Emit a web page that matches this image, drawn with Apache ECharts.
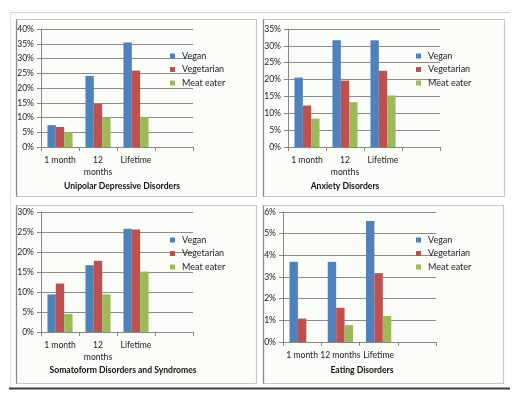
<!DOCTYPE html>
<html><head><meta charset="utf-8">
<script src="https://cdn.jsdelivr.net/npm/echarts@6/dist/echarts.min.js"></script>
<style>html,body{margin:0;padding:0;background:#fff}#c{width:520px;height:401px}</style>
</head><body><div id="c"></div>
<script>
const seriesNames = ['Vegan', 'Vegetarian', 'Meat eater'];
const colors = ['#4f81bd', '#c0504d', '#9bbb59'];

const catsWrapped = ['1 month', '12\nmonths', 'Lifetime', ''];
const catsEating = ['1 month', '12 months', 'Lifetime', ''];

const titles = ['Unipolar Depressive Disorders', 'Anxiety Disorders', 'Somatoform Disorders and Syndromes', 'Eating Disorders'];

const depVegan = [7.4, 24.1, 35.4];
const depVegetarian = [6.8, 14.6, 25.9];
const depMeat = [5.0, 10.1, 10.1];

const anxVegan = [20.6, 31.7, 31.7];
const anxVegetarian = [12.3, 19.7, 22.6];
const anxMeat = [8.4, 13.3, 15.3];

const somVegan = [9.4, 16.7, 25.8];
const somVegetarian = [12.1, 17.8, 25.6];
const somMeat = [4.5, 9.4, 15.1];

const eatVegan = [3.7, 3.7, 5.58];
const eatVegetarian = [1.08, 1.58, 3.18];
const eatMeat = [0, 0.78, 1.2];

const yMax = [40, 35, 30, 6];
const yInterval = [5, 5, 5, 1];

const panelData = [
  [depVegan, depVegetarian, depMeat],
  [anxVegan, anxVegetarian, anxMeat],
  [somVegan, somVegetarian, somMeat],
  [eatVegan, eatVegetarian, eatMeat]
];
const panelCats = [catsWrapped, catsWrapped, catsWrapped, catsEating];

// layout
const grids = [
  {left: 41, top: 29, width: 152, height: 118},
  {left: 288, top: 29, width: 152, height: 118},
  {left: 41, top: 212, width: 152, height: 120},
  {left: 283, top: 212, width: 153, height: 130}
];
const frames = [
  {x: 16, y: 19, w: 240, h: 177},
  {x: 263, y: 19, w: 241, h: 177},
  {x: 16, y: 205, w: 240, h: 178},
  {x: 263, y: 205, w: 240, h: 178}
];
const titlePos = [
  {x: 122, y: 182},
  {x: 345, y: 182},
  {x: 123, y: 366},
  {x: 362, y: 366}
];
const legendPos = [
  {x: 170, y: 51},
  {x: 416, y: 51},
  {x: 170, y: 235},
  {x: 416, y: 235}
];

const FONT = 'Lato';
const chart = echarts.init(document.getElementById('c'), null, {renderer: 'canvas'});

const graphic = [];
graphic.push({type: 'line', shape: {x1: 10, y1: 12.5, x2: 510, y2: 12.5}, style: {stroke: '#d4d4d4', lineWidth: 1}, z: 0});
graphic.push({type: 'line', shape: {x1: 10.5, y1: 12.5, x2: 10.5, y2: 388}, style: {stroke: '#e2e2e2', lineWidth: 1}, z: 0});
graphic.push({type: 'line', shape: {x1: 9, y1: 388.5, x2: 510, y2: 388.5}, style: {stroke: '#3c3c3c', lineWidth: 2}, z: 0});
frames.forEach(f => {
  graphic.push({type: 'rect', shape: {x: f.x + 0.5, y: f.y + 0.5, width: f.w, height: f.h}, style: {fill: '#fbfdf9', stroke: '#c8c8c8', lineWidth: 1.2}, z: -1, silent: true});
  graphic.push({type: 'line', shape: {x1: f.x + 0.5, y1: f.y + 0.5, x2: f.x + 0.5, y2: f.y + f.h + 0.5}, style: {stroke: '#8a8a8a', lineWidth: 1.2}, z: 0});
});

const option = {
  animation: false,
  backgroundColor: '#ffffff',
  textStyle: {fontFamily: FONT},
  graphic: graphic,
  title: titles.map((t, i) => ({
    text: t, left: titlePos[i].x, top: titlePos[i].y, textAlign: 'center', padding: 0,
    textStyle: {fontFamily: FONT, fontSize: 8.6, fontWeight: 'bold', color: '#111'}
  })),
  legend: legendPos.map((p, i) => ({
    data: seriesNames, orient: 'vertical', left: p.x, top: p.y, padding: 0,
    itemWidth: 5, itemHeight: 5, itemGap: 3.5, icon: 'rect',
    textStyle: {fontFamily: FONT, fontSize: 9, lineHeight: 10, color: '#1a1a1a', padding: [0, 0, 0, 2]}
  })),
  grid: grids.map(g => Object.assign({containLabel: false}, g)),
  xAxis: panelCats.map((c, i) => ({
    type: 'category', gridIndex: i, data: c,
    axisLine: {lineStyle: {color: '#888', width: 1}},
    axisTick: {show: true, length: 4, lineStyle: {color: '#888'}},
    axisLabel: {interval: 0, fontFamily: FONT, fontSize: 8.6, color: '#1a1a1a', margin: 7, lineHeight: 12}
  })),
  yAxis: yMax.map((m, i) => ({
    type: 'value', gridIndex: i, min: 0, max: m, interval: yInterval[i],
    axisLine: {show: true, lineStyle: {color: '#888'}},
    axisTick: {show: true, length: 4, lineStyle: {color: '#888'}},
    splitLine: {lineStyle: {color: '#8c8c8c', width: 1}},
    axisLabel: {formatter: '{value}%', fontFamily: FONT, fontSize: 8.6, color: '#1a1a1a', margin: 7}
  })),
  series: []
};

panelData.forEach((arrs, p) => {
  arrs.forEach((vals, s) => {
    option.series.push({
      type: 'bar', name: seriesNames[s], xAxisIndex: p, yAxisIndex: p,
      data: vals, itemStyle: {color: colors[s]},
      barGap: '0%', barCategoryGap: '34%'
    });
  });
});

chart.setOption(option);
</script>
</body></html>
